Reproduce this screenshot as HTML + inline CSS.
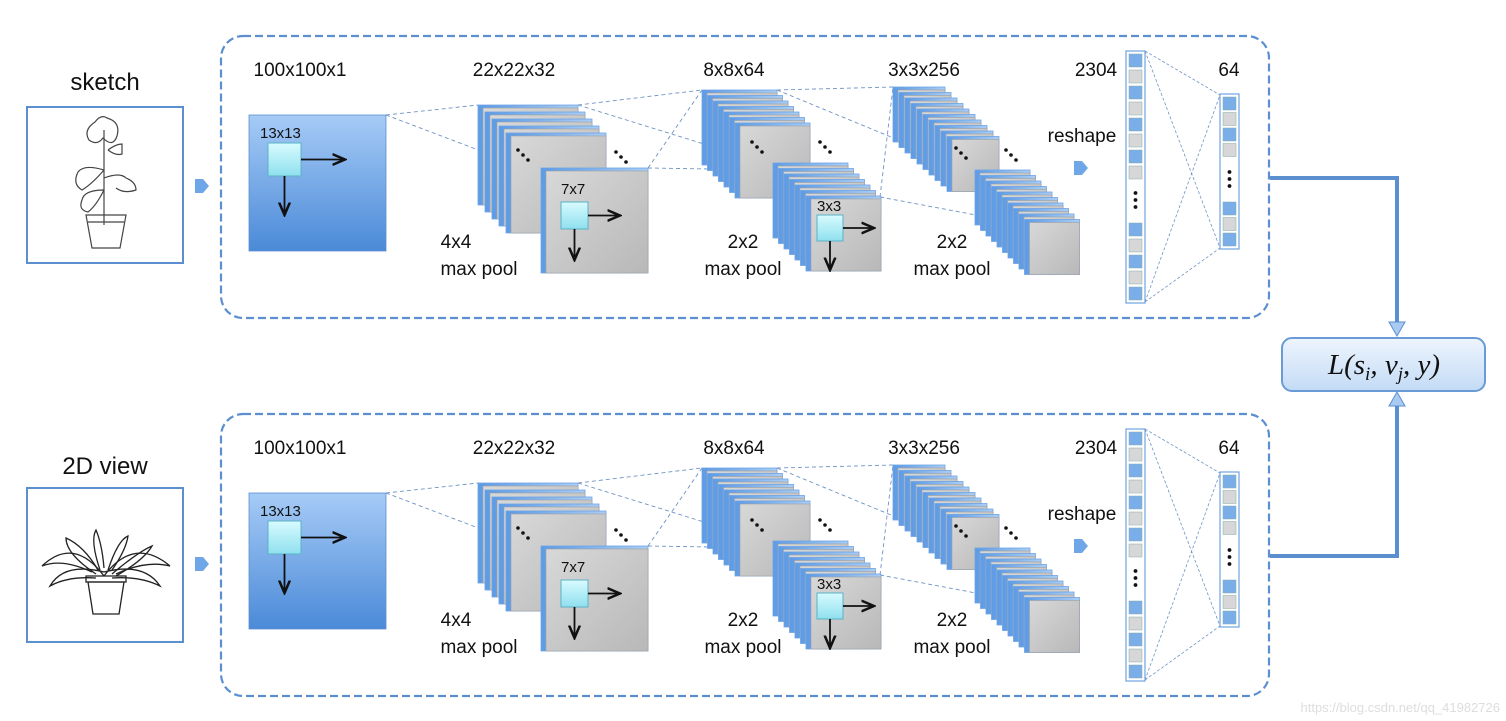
<!DOCTYPE html>
<html><head><meta charset="utf-8"><style>
html,body{margin:0;padding:0;background:#fff;}
svg{display:block;font-family:"Liberation Sans",sans-serif;}
.t{font-size:19px;fill:#111;text-anchor:middle;}
.s{font-size:15px;fill:#111;}
</style></head><body>
<svg id="sv" width="1506" height="721" viewBox="0 0 1506 721" xmlns="http://www.w3.org/2000/svg">
<defs>
<linearGradient id="gin" x1="0" y1="0" x2="0" y2="1"><stop offset="0" stop-color="#a6cbf6"/><stop offset="1" stop-color="#4b8ad8"/></linearGradient>
<linearGradient id="gcy" x1="0" y1="0" x2="0" y2="1"><stop offset="0" stop-color="#d8fbff"/><stop offset="1" stop-color="#8fe0ee"/></linearGradient>
<linearGradient id="ggr" x1="0" y1="0" x2="1" y2="1"><stop offset="0" stop-color="#d8d8d8"/><stop offset="1" stop-color="#b8b8b8"/></linearGradient>
<linearGradient id="gbl" x1="0" y1="0" x2="1" y2="0"><stop offset="0" stop-color="#5d9be6"/><stop offset="1" stop-color="#a9cdf5"/></linearGradient>
<linearGradient id="gloss" x1="0" y1="0" x2="0" y2="1"><stop offset="0" stop-color="#eef5fd"/><stop offset="1" stop-color="#c3dbf6"/></linearGradient>
<marker id="ah" markerWidth="8" markerHeight="8" refX="7" refY="4" orient="auto"><path d="M0,1 L7,4 L0,7" fill="none" stroke="#111" stroke-width="1.4"/></marker>
</defs>
<g id="shapes"></g>
<g id="texts">
<text x="105" y="90" text-anchor="middle" style="font-size:24px;fill:#111">sketch</text>
<text x="105" y="474" text-anchor="middle" style="font-size:24px;fill:#111">2D view</text>
<g id="lbl0">
<text class="t" x="300" y="76">100x100x1</text>
<text class="t" x="514" y="76">22x22x32</text>
<text class="t" x="734" y="76">8x8x64</text>
<text class="t" x="924" y="76">3x3x256</text>
<text class="t" x="1096" y="76">2304</text>
<text class="t" x="1229" y="76">64</text>
<text class="s" x="260" y="138">13x13</text>
<text class="s" x="561" y="194">7x7</text>
<text class="s" x="817" y="211">3x3</text>
<text class="t" x="456" y="248">4x4</text>
<text class="t" x="479" y="275">max pool</text>
<text class="t" x="743" y="248">2x2</text>
<text class="t" x="743" y="275">max pool</text>
<text class="t" x="952" y="248">2x2</text>
<text class="t" x="952" y="275">max pool</text>
<text class="t" x="1082" y="142">reshape</text>
</g>
<g transform="translate(0,378)">
<text class="t" x="300" y="76">100x100x1</text>
<text class="t" x="514" y="76">22x22x32</text>
<text class="t" x="734" y="76">8x8x64</text>
<text class="t" x="924" y="76">3x3x256</text>
<text class="t" x="1096" y="76">2304</text>
<text class="t" x="1229" y="76">64</text>
<text class="s" x="260" y="138">13x13</text>
<text class="s" x="561" y="194">7x7</text>
<text class="s" x="817" y="211">3x3</text>
<text class="t" x="456" y="248">4x4</text>
<text class="t" x="479" y="275">max pool</text>
<text class="t" x="743" y="248">2x2</text>
<text class="t" x="743" y="275">max pool</text>
<text class="t" x="952" y="248">2x2</text>
<text class="t" x="952" y="275">max pool</text>
<text class="t" x="1082" y="142">reshape</text>
</g>
<text x="1384" y="374" text-anchor="middle" style="font-family:'Liberation Serif',serif;font-style:italic;font-size:29px;fill:#111">L(s<tspan font-size="19" dy="6">i</tspan><tspan dy="-6">, v</tspan><tspan font-size="19" dy="6">j</tspan><tspan dy="-6">, y)</tspan></text>
<text x="1500" y="712" text-anchor="end" style="font-size:13px;fill:#ddd">https://blog.csdn.net/qq_41982726</text>
</g>
</svg>
<script>
var S='';
function r(x,y,w,h,f,st,extra){S+='<rect x="'+x+'" y="'+y+'" width="'+w+'" height="'+h+'" fill="'+f+'" stroke="'+(st||'none')+'" '+(extra||'')+'/>';}
function l(x1,y1,x2,y2,st,extra){S+='<line x1="'+x1+'" y1="'+y1+'" x2="'+x2+'" y2="'+y2+'" stroke="'+st+'" '+(extra||'')+'/>';}
function card(x,y,w,h){r(x,y,w,h,'url(#gbl)','#6fa3e3','stroke-width="0.8"');r(x+5,y+3,w-5,h-3,'url(#ggr)','#a0a0a0','stroke-width="0.6"');}
function dots(x,y){for(var i=0;i<3;i++)S+='<circle cx="'+(x+i*5)+'" cy="'+(y+i*5)+'" r="1.8" fill="#111"/>';}
function vdots(x,y){for(var i=0;i<3;i++)S+='<circle cx="'+x+'" cy="'+(y+i*7)+'" r="1.9" fill="#111"/>';}
function chev(x,y){S+='<path d="M'+x+','+(y-6)+' h8 l6,7 l-6,7 h-8 z" fill="#6ea6e8"/>';}
function kern(x,y,s,ax,ay){r(x,y,s,s,'url(#gcy)','#5bb2c6','stroke-width="1"');l(x+s,y+s/2,ax,y+s/2,'#111','stroke-width="1.8" marker-end="url(#ah)"');l(x+s/2,y+s,x+s/2,ay,'#111','stroke-width="1.8" marker-end="url(#ah)"');}
function row(oy){
 S+='<g transform="translate(0,'+oy+')">';
 S+='<rect x="221" y="36" width="1048" height="282" rx="22" fill="none" stroke="#5b8fcf" stroke-width="2.2" stroke-dasharray="8,4"/>';
 chev(195,185);
 var d='stroke-width="0.9" stroke-dasharray="4,3"';
 // projection lines
 l(386,115,478,105,'#6f93c4',d);l(386,115,547,176,'#6f93c4',d);
 l(578,105,702,90,'#6f93c4',d);l(578,105,775,166,'#6f93c4',d);l(648,168,702,90,'#6f93c4',d);l(648,168,775,170,'#6f93c4',d);
 l(777,90,893,87,'#6f93c4',d);l(777,90,976,172,'#6f93c4',d);l(880,197,893,87,'#6f93c4',d);l(880,197,976,215,'#6f93c4',d);
 // input
 r(249,115,137,136,'url(#gin)','#5c8fd0','stroke-width="0.8"');
 kern(268,143,33,345,215);
 // stack1
 for(var i=0;i<5;i++)card(478+i*7,105+i*7,100,100);
 dots(518,150);dots(616,152);
 card(541,168,107,105);
 kern(561,202,27,620,260);
 // stack2
 for(i=0;i<7;i++)card(702+i*5.5,90+i*5.5,75,75);
 dots(752,142);dots(820,142);
 for(i=0;i<7;i++)card(773+i*5.5,163+i*5.5,75,75);
 kern(817,215,26,874,270);
 // stack3
 for(i=0;i<10;i++)card(893+i*6,87+i*5.5,52,55);
 dots(956,148);dots(1006,150);
 for(i=0;i<10;i++)card(975+i*5.5,170+i*5.5,55,55);
 chev(1074,167);
 // FC lines
 var fd='stroke-width="0.8" stroke-dasharray="3,2"';
 l(1145,51,1220,95,'#6f93c4',fd);l(1145,51,1220,248,'#6f93c4',fd);l(1145,302,1220,95,'#6f93c4',fd);l(1145,302,1220,248,'#6f93c4',fd);
 // vector 2304
 r(1126,51,19,252,'#fff','#6fa3e3','stroke-width="1.2"');
 for(i=0;i<8;i++)r(1129,54+i*16,13,13,i%2?'#d7d7d7':'#7aaee9','#8aa','stroke-width="0.5"');
 vdots(1135.5,193);
 for(i=0;i<5;i++)r(1129,223+i*16,13,13,i%2?'#d7d7d7':'#7aaee9','#8aa','stroke-width="0.5"');
 // vector 64
 r(1220,94,19,155,'#fff','#6fa3e3','stroke-width="1.2"');
 for(i=0;i<4;i++)r(1223,97+i*15.5,13,13,i%2?'#d7d7d7':'#7aaee9','#8aa','stroke-width="0.5"');
 vdots(1229.5,172);
 for(i=0;i<3;i++)r(1223,202+i*15.5,13,13,i%2?'#d7d7d7':'#7aaee9','#8aa','stroke-width="0.5"');
 S+='</g>';
}
row(0);row(378);
// left boxes
r(27,107,156,156,'#fff','#5b8fcf','stroke-width="2"');
r(27,488,156,154,'#fff','#5b8fcf','stroke-width="2"');
// sketch plant
S+='<g fill="none" stroke="#444" stroke-width="1.2">'+
'<path d="M104,130 v95"/><path d="M86,215 h40 l-6,33 h-28 z"/><path d="M88,222 h36"/>'+
'<path d="M95,122 q-12,8 -6,18 q8,6 14,-2 q10,10 14,-2 q4,-14 -10,-18 q-6,-4 -12,4z"/>'+
'<path d="M104,170 q-20,-6 -26,2 q-6,12 4,18 q10,-6 22,-20"/>'+
'<path d="M104,178 q16,-6 22,0 q10,4 10,12 q-12,4 -20,-2"/>'+
'<path d="M104,190 q-20,0 -22,10 q-4,10 6,12 q8,-6 16,-22"/>'+
'<path d="M108,150 q8,-6 14,-6 v10 q-6,2 -14,-4"/></g>';
// 2D view plant
S+='<g fill="none" stroke="#222" stroke-width="1.3">'+
'<path d="M88,582 h36 l-5,32 h-26 z"/><path d="M86,576 h40 v6 h-40z"/>'+
'<path d="M104,576 q-30,-40 -62,-10 q20,-8 50,6"/><path d="M104,576 q30,-40 66,-10 q-24,-6 -54,8"/>'+
'<path d="M104,572 q-40,-10 -54,14 q18,-10 46,-8"/><path d="M104,572 q40,-10 56,14 q-20,-10 -48,-8"/>'+
'<path d="M100,570 q-10,-30 -4,-40 q6,14 8,38"/><path d="M108,570 q10,-30 20,-34 q-2,14 -16,34"/>'+
'<path d="M96,574 q-30,-20 -30,-36 q18,8 32,32"/><path d="M112,574 q26,-22 40,-28 q-8,14 -36,30"/></g>';
// connectors
S+='<path d="M1270,178 H1397 V326" fill="none" stroke="#5b8fcf" stroke-width="4"/>';
S+='<path d="M1389,322 h16 l-8,14 z" fill="#a9cbf2" stroke="#5b8fcf"/>';
S+='<path d="M1270,556 H1397 V404" fill="none" stroke="#5b8fcf" stroke-width="4"/>';
S+='<path d="M1389,406 h16 l-8,-14 z" fill="#a9cbf2" stroke="#5b8fcf"/>';
S+='<rect x="1282" y="338" width="203" height="53" rx="10" fill="url(#gloss)" stroke="#6a9bd6" stroke-width="2"/>';
document.getElementById('shapes').innerHTML=S;
</script>
</body></html>
